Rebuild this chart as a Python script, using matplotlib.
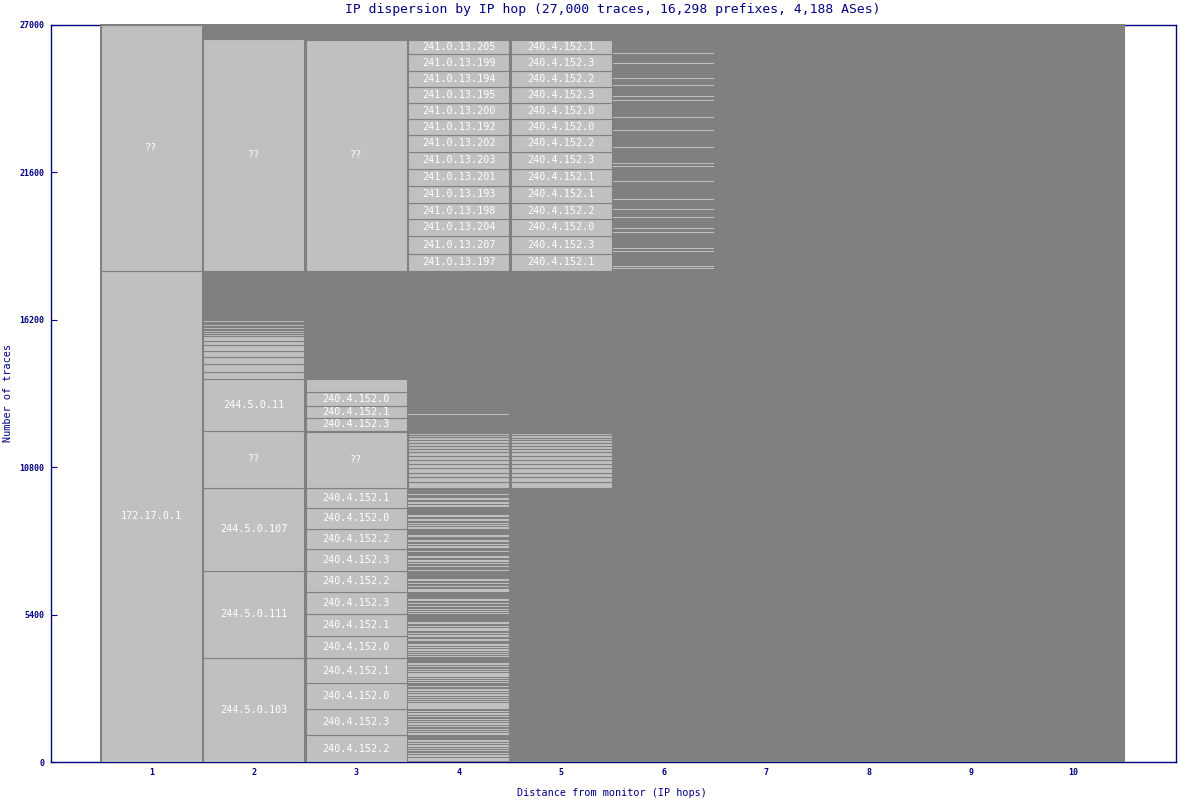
"""
IP dispersion by IP hop: stacked trace counts per hop, split by the address seen.
Output: out.png
"""
import matplotlib
matplotlib.use('Agg')
import matplotlib.pyplot as plt

navy = '#000080'
dark = '#808080'
light = '#C0C0C0'
mono = 'DejaVu Sans Mono'

# === Data (trace counts, stacked bottom-up; label None = traces ending / no reply) ===
hops = list(range(1, 11))
total_traces = 27000
yticks = [0, 5400, 10800, 16200, 21600, 27000]
thin_n = 40          # size of the hair-line segments

col1_counts = [18000, 9000]
col1_labels = ['172.17.0.1', '??']

col2_counts = [3810, 3190, 3040, 2090, 1900]
col2_labels = ['244.5.0.103', '244.5.0.111', '244.5.0.107', '??', '244.5.0.11']
col2_small = [270, 280, 255, 240, 185, 160, 170, 90, 85, 60, 50, 50, 60, 50, 50, 45, 45]
col2_upper = 8480

col3_counts = [985, 945, 960, 920, 820, 805, 805, 760, 815, 730, 765, 730,
               2060, 30, 480, 450, 490, 480]
col3_labels = ['240.4.152.2', '240.4.152.3', '240.4.152.0', '240.4.152.1',
               '240.4.152.0', '240.4.152.1', '240.4.152.3', '240.4.152.2',
               '240.4.152.3', '240.4.152.2', '240.4.152.0', '240.4.152.1',
               '??', None, '240.4.152.3', '240.4.152.1', '240.4.152.0', '']
col3_upper = 8440

# gaps before each hair-line in hop 4, below 10800
col4_low_gaps = [53, 23, 44, 59, 55, 48, 44, 59, 44,
                 217, 44, 48, 55, 59, 45, 48, 55, 59, 44,
                 96, 33, 33, 44, 48, 34, 44, 44, 59, 81,
                 107, 33, 48, 44, 33, 45, 48, 55, 59,
                 227, 48, 33, 45, 59, 44, 143,
                 107, 59, 55, 22, 44, 96,
                 315, 19, 48, 55, 85, 81,
                 289, 23, 70, 70, 80,
                 316, 106, 56, 59, 106, 169,
                 118, 58, 81, 144,
                 253, 44, 48, 81, 106,
                 327, 70, 106, 133]
col4_gap_bands = 221
col4_bands = [200, 180, 175, 160, 155, 145, 140, 135, 130, 120, 110, 100, 90, 85, 75]
col4_gap_line = 668

top_counts = [620, 660, 620, 590, 620, 620, 620, 620, 590, 590, 590, 590, 590, 520]
col4_top_labels = ['241.0.13.197', '241.0.13.207', '241.0.13.204', '241.0.13.198',
                   '241.0.13.193', '241.0.13.201', '241.0.13.203', '241.0.13.202',
                   '241.0.13.192', '241.0.13.200', '241.0.13.195', '241.0.13.194',
                   '241.0.13.199', '241.0.13.205']

col5_gap_bands = 10050
col5_bands = [190, 190, 170, 160, 150, 150, 140, 140, 130, 115, 110, 95, 90, 90, 80]
col5_top_labels = ['240.4.152.1', '240.4.152.3', '240.4.152.0', '240.4.152.2',
                   '240.4.152.1', '240.4.152.1', '240.4.152.3', '240.4.152.2',
                   '240.4.152.0', '240.4.152.0', '240.4.152.3', '240.4.152.2',
                   '240.4.152.3', '240.4.152.1']

col6_gaps = [44, 59, 483, 95, 521, 132, 363, 253, 327, 619, 484, 95, 522,
             583, 462, 557, 132, 363, 217, 509, 327]


# === Build the stacks ===
def lines(gaps):
    segs = []
    for g in gaps:
        segs += [(g, None), (thin_n, '')]
    return segs


def pad_to(segs, level):
    filled = sum(c for c, _ in segs)
    return segs + [(level - filled, None)]


split = col1_counts[0]   # first-hop boundary between the two branches

col1 = list(zip(col1_counts, col1_labels))
col2 = pad_to(list(zip(col2_counts, col2_labels)) + [(c, '') for c in col2_small], split) \
    + [(col2_upper, '??')]
col3 = pad_to(list(zip(col3_counts, col3_labels)), split) + [(col3_upper, '??')]
col4 = lines(col4_low_gaps) + [(col4_gap_bands, None)] + [(c, '') for c in col4_bands] \
    + [(col4_gap_line, None), (thin_n, '')]
col4 = pad_to(col4, split) + list(zip(top_counts, col4_top_labels))
col5 = [(col5_gap_bands, None)] + [(c, '') for c in col5_bands]
col5 = pad_to(col5, split) + list(zip(top_counts, col5_top_labels))
col6 = [(split, None)] + lines(col6_gaps)
columns = [col1, col2, col3, col4, col5, col6]

# === Figure ===
fig = plt.figure(figsize=(11.78, 8), dpi=100)
ax = fig.add_axes([51 / 1178, 38 / 800, 1125 / 1178, 737 / 800])
ax.set_xlim(0.02, 11.0)
ax.set_ylim(0, total_traces)
# plot area slightly overlaps the top frame line, as in the original
ax.axvspan(hops[0] - 0.5, hops[-1] + 0.5, ymin=0, ymax=1.002, color=dark, lw=0,
           zorder=3, clip_on=False)

for hop, segs in zip(hops, columns):
    bottom = 0
    for count, label in segs:
        if label is not None:
            edged = count > thin_n
            ax.bar(hop, count, bottom=bottom, width=0.985, color=light,
                   edgecolor=dark if edged else 'none', linewidth=0.8 if edged else 0,
                   zorder=4)
            if label:
                ax.text(hop, bottom + count / 2, label, ha='center', va='center',
                        color='white', fontsize=7.3, family=mono, zorder=5)
        bottom += count

for s in ax.spines.values():
    s.set_color(navy)
    s.set_linewidth(1.0)

ax.set_xticks(hops)
ax.set_xticklabels([str(h) for h in hops])
ax.set_yticks(yticks)
ax.set_yticklabels([str(v) for v in yticks])
ax.tick_params(axis='x', length=0, pad=4, labelcolor=navy, labelsize=6)
ax.tick_params(axis='y', direction='in', length=4, color=navy, labelcolor=navy,
               labelsize=6, pad=5)
for t in ax.get_xticklabels() + ax.get_yticklabels():
    t.set_family(mono)
    t.set_fontweight('bold')

fig.text(613 / 1178, 1 - 9 / 800,
         'IP dispersion by IP hop (27,000 traces, 16,298 prefixes, 4,188 ASes)',
         ha='center', va='center', color=navy, fontsize=9.4, family=mono)
fig.text(612 / 1178, 1 - 793 / 800, 'Distance from monitor (IP hops)',
         ha='center', va='center', color=navy, fontsize=7.3, family=mono)
fig.text(8 / 1178, 1 - 393 / 800, 'Number of traces', rotation=90,
         ha='center', va='center', color=navy, fontsize=7.3, family=mono)

fig.savefig('out.png', dpi=100, facecolor='white')
plt.close()
